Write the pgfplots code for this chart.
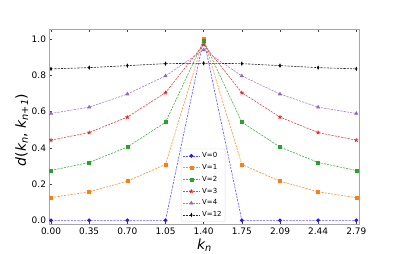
\documentclass[border=0pt]{standalone}
\usepackage{pgfplots}
\usepackage{pgfplotstable}
\pgfplotsset{compat=1.18}
\usepackage{fontspec}
\setmainfont{DejaVu Sans}
\definecolor{cV0}{RGB}{40,20,245}
\definecolor{cV1}{RGB}{255,127,14}
\definecolor{cV2}{RGB}{44,160,44}
\definecolor{cV3}{RGB}{214,39,40}
\definecolor{cV4}{RGB}{148,103,189}
\definecolor{cV12}{RGB}{0,0,0}
\pgfplotstableread{
k V0 V1 V2 V3 V4 V12
0.000000 0 0.125 0.275 0.442 0.589 0.835
0.349066 0 0.157 0.319 0.484 0.624 0.842
0.698132 0 0.216 0.404 0.569 0.696 0.853
1.047198 0 0.308 0.541 0.704 0.796 0.864
1.396263 1 1.000 0.990 0.970 0.940 0.866
1.745329 0 0.308 0.541 0.704 0.796 0.864
2.094395 0 0.216 0.404 0.569 0.696 0.853
2.443461 0 0.157 0.319 0.484 0.624 0.842
2.792527 0 0.125 0.275 0.442 0.589 0.835
}\datatable
\begin{document}
\begin{tikzpicture}
\path[use as bounding box] (-49.5bp,-29.7bp) rectangle (349.5bp,224.3bp);
\begin{axis}[
  scale only axis, width=309.8bp, height=195.3bp,
  at={(0,0)}, anchor=south west,
  xmin=-0.014, xmax=2.82, ymin=-0.022, ymax=1.055,
  xtick={0,0.349066,0.698132,1.047198,1.396263,1.745329,2.094395,2.443461,2.792527},
  xticklabels={0.00,0.35,0.70,1.05,1.40,1.75,2.09,2.44,2.79},
  ytick={0,0.2,0.4,0.6,0.8,1.0},
  yticklabels={0.0,0.2,0.4,0.6,0.8,1.0},
  tick align=inside, xtick pos=both, ytick pos=left,
  major tick length=3bp,
  axis line style={black!35},
  tick style={black!75, line width=0.5pt},
  /pgf/number format/assume math mode=true,
  tick label style={font=\fontsize{9}{10}\selectfont},
  xlabel={\itshape k\textsubscript{n}},
  ylabel={\itshape d\upshape(\itshape k\textsubscript{n}\upshape, \itshape k\textsubscript{n+1}\upshape)},
  label style={font=\fontsize{14}{16}\selectfont},
  xlabel style={at={(axis description cs:0.5,-0.106)}, anchor=center},
  ylabel style={at={(axis description cs:-0.09,0.483)}, anchor=center},
  legend style={at={(0.424,0.012)}, anchor=south west,
    font=\fontsize{7}{8}\selectfont, draw=black!15, rounded corners=1.5pt,
    row sep=1.2bp, inner sep=1.5pt},
  legend cell align=left,
  every axis plot/.append style={line width=0.6pt, dash pattern=on 2.2pt off 1.1pt, mark options={solid}},
]
\addplot[cV0!75, mark=*, mark size=1.6bp, mark options={fill=cV0, draw=cV0, solid}] table[x=k,y=V0] {\datatable};
\addplot[cV1!85, mark=square*, mark size=1.5bp, mark options={fill=cV1, draw=cV1, solid}] table[x=k,y=V1] {\datatable};
\addplot[cV2!85, mark=square*, mark size=1.5bp, mark options={fill=cV2, draw=cV2, solid}] table[x=k,y=V2] {\datatable};
\addplot[cV3!85, mark=star, mark size=2bp, mark options={draw=cV3, solid, line width=0.8pt}] table[x=k,y=V3] {\datatable};
\addplot[cV4!85, mark=triangle*, mark size=1.8bp, mark options={fill=cV4, draw=cV4, solid}] table[x=k,y=V4] {\datatable};
\addplot[cV12!85, mark=diamond*, mark size=2bp, mark options={fill=cV12, draw=cV12, solid, scale=0.8, xscale=0.6}] table[x=k,y=V12] {\datatable};
\legend{V=0,V=1,V=2,V=3,V=4,V=12}
\end{axis}
\end{tikzpicture}
\end{document}
